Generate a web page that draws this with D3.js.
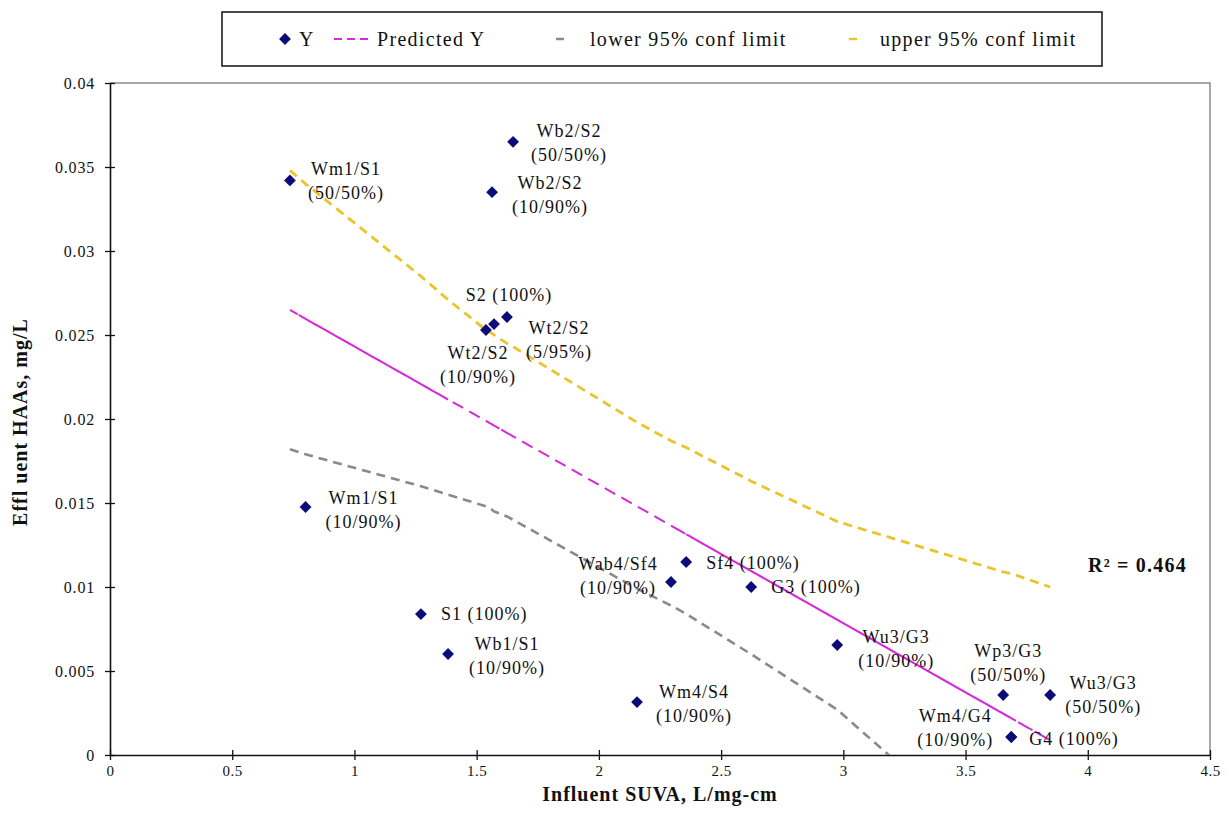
<!DOCTYPE html>
<html>
<head>
<meta charset="utf-8">
<script src="https://cdn.jsdelivr.net/npm/d3@7"></script>
<style>
  body { margin: 0; background: #fff; }
  #chart text { font-family: "Liberation Serif", "Times New Roman", Times, serif !important; fill: #111; }
</style>
</head>
<body>
<svg id="chart" width="1231" height="829"></svg>
<script>
// Sample blends: influent SUVA (L/mg-cm) vs effluent HAAs (mg/L)
const names = ["Wm1/S1", "Wb2/S2", "Wb2/S2", "S2", "Wt2/S2", "Wt2/S2", "Wm1/S1", "S1", "Wb1/S1",
  "Wab4/Sf4", "Sf4", "G3", "Wu3/G3", "Wm4/S4", "Wp3/G3", "Wu3/G3", "Wm4/G4", "G4"];
const blends = ["(50/50%)", "(50/50%)", "(10/90%)", "(100%)", "(5/95%)", "(10/90%)", "(10/90%)", "(100%)", "(10/90%)",
  "(10/90%)", "(100%)", "(100%)", "(10/90%)", "(10/90%)", "(50/50%)", "(50/50%)", "(10/90%)", "(100%)"];
const suva = [0.736, 1.649, 1.563, 1.571, 1.624, 1.538, 0.80, 1.272, 1.383,
  2.295, 2.357, 2.623, 2.975, 2.156, 3.654, 3.846, 3.687, 3.687];
const haa = [0.0342, 0.0365, 0.0335, 0.02565, 0.02607, 0.0253, 0.01476, 0.00839, 0.00601,
  0.0103, 0.01149, 0.0100, 0.00655, 0.00315, 0.00357, 0.00357, 0.00107, 0.00107];

// Regression output, in worksheet row order
const predX = [1.272, 0.80, 1.383, 0.736, 1.538, 1.571, 1.624, 1.563, 1.649,
  2.156, 3.846, 2.295, 3.687, 2.357, 3.687, 2.623, 3.654, 2.975];
const predY = [0.02208, 0.02596, 0.02116, 0.02649, 0.01989, 0.01961, 0.01918, 0.01968, 0.01897,
  0.01480, 0.00088, 0.01365, 0.00219, 0.01314, 0.00219, 0.01095, 0.00246, 0.00805];

// 95% confidence limits, sorted by SUVA
const limX = [0.736, 0.80, 1.272, 1.383, 1.538, 1.563, 1.571, 1.624, 1.649,
  2.156, 2.295, 2.357, 2.623, 2.975, 3.654, 3.687, 3.846];
const lowerY = [0.0182, 0.0179, 0.0160, 0.0155, 0.0148, 0.0146, 0.0145, 0.0142, 0.0140,
  0.0099, 0.0089, 0.0084, 0.0060, 0.0027, -0.0060, -0.0064, -0.0083];
const upperY = [0.0348, 0.0340, 0.0285, 0.0271, 0.0253, 0.0251, 0.0250, 0.0245, 0.0243,
  0.0198, 0.0187, 0.0183, 0.0163, 0.0139, 0.0109, 0.0108, 0.0100];

const xTicks = [0, 0.5, 1, 1.5, 2, 2.5, 3, 3.5, 4, 4.5];
const yTicks = [0, 0.005, 0.01, 0.015, 0.02, 0.025, 0.03, 0.035, 0.04];
const rSquared = "R² = 0.464";

// Label placement around each marker: [dx, dy of first line, stacked?, anchor]
const labelPlace = [
  [56, -12, true, "middle"], [56, -11, true, "middle"], [58, -10, true, "middle"],
  [15, -29, false, "middle"], [52, 11, true, "middle"], [-8, 23, true, "middle"],
  [58, -9, true, "middle"], [20, 0, false, "start"], [59, -10, true, "middle"],
  [-53, -18, true, "middle"], [20, 1, false, "start"], [20, 0, false, "start"],
  [59, -8, true, "middle"], [57, -10, true, "middle"], [5, -44, true, "middle"],
  [53, -12, true, "middle"], [-56, -21, true, "middle"], [18, 2, false, "start"]
];

const serif = '"Liberation Serif", "Times New Roman", serif';
const svg = d3.select("#chart");
const plotLeft = 110, plotRight = 1210, plotTop = 83, plotBottom = 755;
const x = d3.scaleLinear().domain([0, 4.5]).range([plotLeft, plotRight]);
const y = d3.scaleLinear().domain([0, 0.04]).range([plotBottom, plotTop]);

const navy = "#0c0c78", magenta = "#d62ad6", gold = "#e9c52a", grey = "#8a8a8a";

svg.append("defs").append("clipPath").attr("id", "plot")
  .append("rect").attr("x", plotLeft).attr("y", plotTop)
  .attr("width", plotRight - plotLeft).attr("height", plotBottom - plotTop);

// plot frame
svg.append("path").attr("d", `M${plotLeft},${plotTop}H${plotRight}V${plotBottom}`)
  .attr("fill", "none").attr("stroke", "#8c8c8c").attr("stroke-width", 1.5);

// axes
const fmtY = d => d === 0 ? "0" : String(+d.toFixed(3));
const yAxis = svg.append("g").attr("transform", `translate(${plotLeft},0)`)
  .call(d3.axisLeft(y).tickValues(yTicks).tickFormat(fmtY).tickSizeInner(5).tickSizeOuter(0).tickPadding(10));
yAxis.selectAll(".tick line").attr("x2", 5).attr("x1", -5);
const xAxis = svg.append("g").attr("transform", `translate(0,${plotBottom})`)
  .call(d3.axisBottom(x).tickValues(xTicks).tickFormat(d => String(d)).tickSizeInner(5).tickSizeOuter(0).tickPadding(5));
xAxis.selectAll(".tick line").attr("y1", -5).attr("y2", 5);
[yAxis, xAxis].forEach(g => {
  g.attr("font-family", serif);
  g.select(".domain").attr("stroke", "#111").attr("stroke-width", 1.6);
  g.selectAll(".tick line").attr("stroke", "#111").attr("stroke-width", 1.3);
  g.selectAll(".tick text").attr("fill", "#111");
});
yAxis.selectAll(".tick text").attr("font-size", 16).attr("letter-spacing", 0.8);
xAxis.selectAll(".tick text").attr("font-size", 15).attr("letter-spacing", 0.5);

// axis titles
svg.append("text").attr("x", (plotLeft + plotRight) / 2).attr("y", 801).attr("text-anchor", "middle")
  .attr("font-size", 20).attr("letter-spacing", 1).attr("font-weight", "bold").text("Influent SUVA, L/mg-cm");
svg.append("text").attr("transform", `translate(27,${(plotTop + plotBottom) / 2 + 3}) rotate(-90)`)
  .attr("text-anchor", "middle").attr("font-size", 20).attr("letter-spacing", 1).attr("font-weight", "bold")
  .text("Effl uent HAAs, mg/L");

// series lines
const lines = svg.append("g").attr("clip-path", "url(#plot)");
const lineGen = d3.line().x(d => x(d[0])).y(d => y(d[1]));
lines.append("path").datum(limX.map((v, i) => [v, lowerY[i]])).attr("d", lineGen)
  .attr("fill", "none").attr("stroke", grey).attr("stroke-width", 2.6).attr("stroke-dasharray", "9,6");
lines.append("path").datum(limX.map((v, i) => [v, upperY[i]])).attr("d", lineGen)
  .attr("fill", "none").attr("stroke", gold).attr("stroke-width", 2.8).attr("stroke-dasharray", "9,6");
lines.append("path").datum(predX.map((v, i) => [v, predY[i]])).attr("d", lineGen)
  .attr("fill", "none").attr("stroke", magenta).attr("stroke-width", 2).attr("stroke-dasharray", "12,7");

// markers
const diamond = d3.symbol(d3.symbolSquare, 70);
svg.append("g").selectAll("path").data(suva).join("path")
  .attr("d", diamond)
  .attr("transform", (d, i) => `translate(${x(d)},${y(haa[i])}) rotate(45)`)
  .attr("fill", navy);

// point labels
const lbl = svg.append("g").attr("font-size", 18).attr("letter-spacing", 1);
suva.forEach((v, i) => {
  const [dx, dy, stacked, anchor] = labelPlace[i];
  const px = x(v) + dx, py = y(haa[i]) + dy;
  if (stacked) {
    lbl.append("text").attr("x", px).attr("y", py).attr("dy", "0.35em").attr("text-anchor", anchor).text(names[i]);
    lbl.append("text").attr("x", px).attr("y", py + 24).attr("dy", "0.35em").attr("text-anchor", anchor).text(blends[i]);
  } else {
    lbl.append("text").attr("x", px).attr("y", py).attr("dy", "0.35em").attr("text-anchor", anchor)
      .text(names[i] + " " + blends[i]);
  }
});

// R-squared
svg.append("text").attr("x", 1088).attr("y", 565).attr("dy", "0.35em")
  .attr("font-size", 20).attr("letter-spacing", 1.2).attr("font-weight", "bold").text(rSquared);

// legend
const lg = svg.append("g").attr("font-size", 20).attr("letter-spacing", 1.3);
lg.append("rect").attr("x", 222).attr("y", 12).attr("width", 880).attr("height", 54)
  .attr("fill", "#fff").attr("stroke", "#111").attr("stroke-width", 1.5);
const ly = 39;
lg.append("path").attr("d", diamond).attr("transform", `translate(285,${ly}) rotate(45)`).attr("fill", navy);
lg.append("text").attr("x", 299).attr("y", ly).attr("dy", "0.35em").text("Y");
lg.append("line").attr("x1", 334).attr("x2", 372).attr("y1", ly).attr("y2", ly)
  .attr("stroke", magenta).attr("stroke-width", 2).attr("stroke-dasharray", "8,5");
lg.append("text").attr("x", 377).attr("y", ly).attr("dy", "0.35em").text("Predicted Y");
lg.append("line").attr("x1", 556).attr("x2", 564).attr("y1", ly).attr("y2", ly)
  .attr("stroke", grey).attr("stroke-width", 2.5);
lg.append("text").attr("x", 590).attr("y", ly).attr("dy", "0.35em").text("lower 95% conf limit");
lg.append("line").attr("x1", 849).attr("x2", 857).attr("y1", ly).attr("y2", ly)
  .attr("stroke", gold).attr("stroke-width", 2.5);
lg.append("text").attr("x", 880).attr("y", ly).attr("dy", "0.35em").text("upper 95% conf limit");
</script>
</body>
</html>
